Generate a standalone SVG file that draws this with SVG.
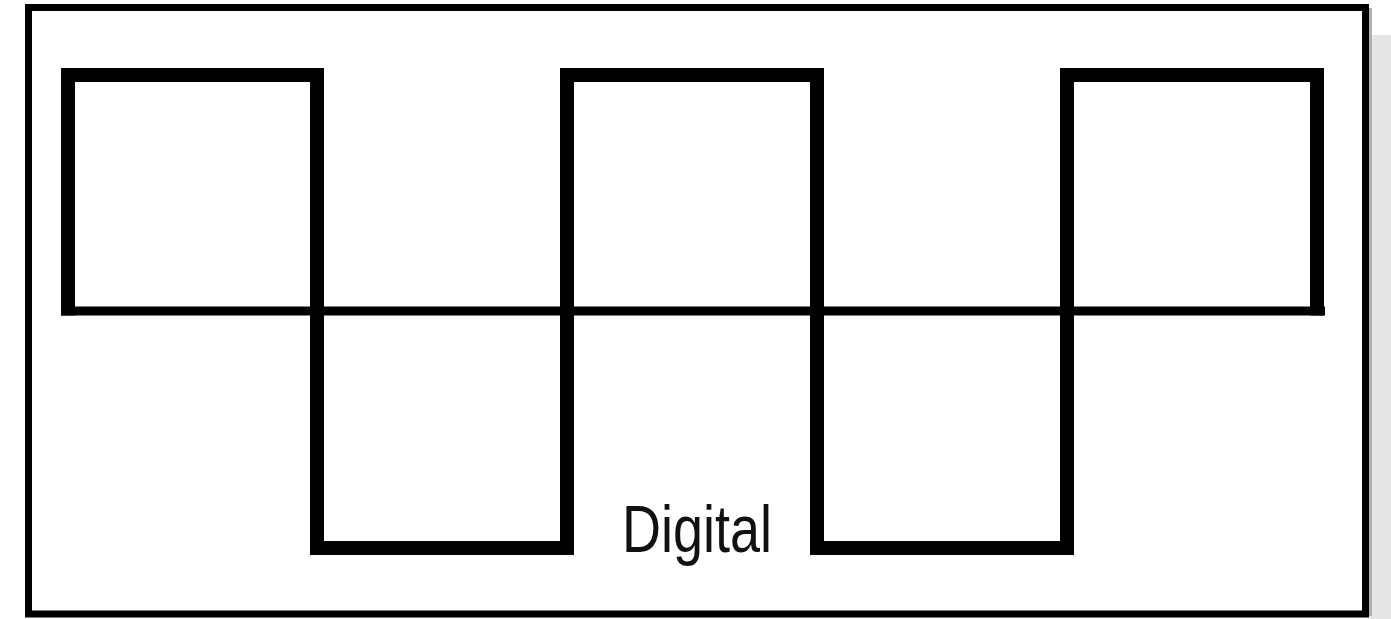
<svg xmlns="http://www.w3.org/2000/svg" width="1391" height="619" viewBox="0 0 1391 619">
  <style>
    .frame { fill: #ffffff; stroke: #000000; stroke-width: 7; }
    .wave { fill: none; stroke: #000000; stroke-width: 14; stroke-linejoin: miter; stroke-linecap: butt; }
    .axis { fill: none; stroke: #000000; stroke-width: 9; }
    .label { font-family: "Liberation Sans", Arial, sans-serif; font-size: 67px; fill: #111111; }
  </style>
  <rect x="0" y="0" width="1391" height="619" fill="#ffffff"/>
  <g id="shadow">
    <rect x="1369" y="35" width="22" height="584" fill="#e6e6e6"/>
    <rect x="1369" y="8" width="3" height="608" fill="#b0b0b0"/>
  </g>
  <g id="frame">
    <rect class="frame" x="28.5" y="7.5" width="1337" height="606.5"/>
  </g>
  <g id="connectors">
    <line class="axis" x1="61" y1="311" x2="1325" y2="311"/>
    <path class="wave" d="M68,315.5 V75 H317 V548 H567 V75 H817 V548 H1067 V75 H1317 V315.5"/>
  </g>
  <g id="label">
    <text class="label" x="622" y="552" textLength="150" lengthAdjust="spacingAndGlyphs">Digital</text>
  </g>
</svg>
